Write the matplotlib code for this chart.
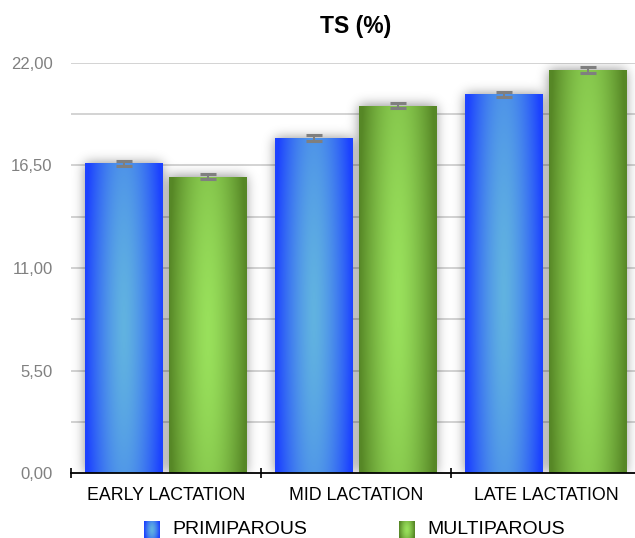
import numpy as np
import matplotlib
matplotlib.use("Agg")
import matplotlib.pyplot as plt
from matplotlib.ticker import FixedLocator, FuncFormatter

# Total solids by lactation stage and parity
stages = ["EARLY LACTATION", "MID LACTATION", "LATE LACTATION"]
series_names = ["PRIMIPAROUS", "MULTIPAROUS"]
primiparous = [16.6, 17.95, 20.3]
multiparous = [15.9, 19.7, 21.6]
primiparous_err = [0.12, 0.16, 0.14]
multiparous_err = [0.12, 0.12, 0.17]
y_ticks = [0.0, 5.5, 11.0, 16.5, 22.0]

plt.rcParams["font.family"] = ["Liberation Sans", "DejaVu Sans"]

W, H = 635, 538
fig = plt.figure(figsize=(W / 100, H / 100), dpi=100)
fig.patch.set_facecolor("white")

ax_l, ax_b = 71.3 / W, (H - 473.3) / H
ax_w, ax_h = 570.0 / W, 410.6 / H
ax = fig.add_axes([ax_l, ax_b, ax_w, ax_h])
ax.set_xlim(-0.5, 2.5)
ax.set_ylim(0, 22)

blue_c, blue_e = np.array([0.38, 0.70, 0.88]), np.array([0.11, 0.26, 1.00])
green_c, green_e = np.array([0.60, 0.88, 0.36]), np.array([0.34, 0.53, 0.15])


def gradient(center, edge, h=220, w=120, vc=0.47, vr=1.25):
    u = np.linspace(-1, 1, w)
    v = np.linspace(0, 1, h)
    U, V = np.meshgrid(u, v)
    d = np.clip(np.sqrt(U ** 2 + ((V - vc) / vr) ** 2), 0, 1)
    t = d ** 1.5
    return center[None, None, :] * (1 - t[..., None]) + edge[None, None, :] * t[..., None]


bw = 0.41
off = 0.221
x = np.arange(len(stages))

bars_p = ax.bar(x - off, primiparous, bw, color="none", zorder=3)
bars_m = ax.bar(x + off, multiparous, bw, color="none", zorder=3)

# soft drop shadow under the bars
npx_w, npx_h = 570, 411
mask = np.zeros((npx_h, npx_w))
for b in list(bars_p) + list(bars_m):
    x0, x1 = b.get_x(), b.get_x() + b.get_width()
    y1 = b.get_height()
    c0 = int((x0 + 0.5) / 3.0 * npx_w)
    c1 = int((x1 + 0.5) / 3.0 * npx_w)
    r1 = int(y1 / 22.0 * npx_h)
    mask[0:r1, c0:c1] = 1.0


def blur(a, s):
    k = np.arange(-3 * s, 3 * s + 1)
    g = np.exp(-k ** 2 / (2 * s * s))
    g /= g.sum()
    a = np.apply_along_axis(lambda r: np.convolve(r, g, mode="same"), 1, a)
    a = np.apply_along_axis(lambda c: np.convolve(c, g, mode="same"), 0, a)
    return a


pad = 30
big = np.pad(mask, pad)
sh = blur(big, 6)[pad:-pad, pad:-pad]
rgba = np.zeros((npx_h, npx_w, 4))
rgba[..., 3] = sh * 0.45
ax.imshow(rgba, extent=(-0.5, 2.5, 0, 22), origin="lower", aspect="auto",
          zorder=2, interpolation="bilinear")

for bars, cc, ee in ((bars_p, blue_c, blue_e), (bars_m, green_c, green_e)):
    img = gradient(cc, ee)
    for b in bars:
        x0 = b.get_x()
        im = ax.imshow(img, extent=(x0, x0 + b.get_width(), 0, b.get_height()),
                       origin="lower", aspect="auto", zorder=3, interpolation="bilinear")
        im.set_clip_path(b)

ax.set_xlim(-0.5, 2.5)
ax.set_ylim(0, 22)

ax.errorbar(x - off, primiparous, yerr=primiparous_err, fmt="none", ecolor="#7f7f7f",
            elinewidth=1.5, capsize=5.5, capthick=2.2, zorder=5)
ax.errorbar(x + off, multiparous, yerr=multiparous_err, fmt="none", ecolor="#7f7f7f",
            elinewidth=1.5, capsize=5.5, capthick=2.2, zorder=5)

# grid and axes styling
for gy in np.arange(2.75, 22.01, 2.75):
    ax.axhline(gy, color="#c8c8c8", lw=1.1, zorder=1)
for s in ("top", "right", "left"):
    ax.spines[s].set_visible(False)
ax.spines["bottom"].set_color("black")
ax.spines["bottom"].set_linewidth(1.3)
ax.spines["bottom"].set_zorder(6)

ax.yaxis.set_major_locator(FixedLocator(y_ticks))
ax.yaxis.set_major_formatter(FuncFormatter(lambda v, p: f"{v:.2f}".replace(".", ",")))
ax.tick_params(axis="y", length=0, pad=13.5, labelsize=12, labelcolor="#808080")

ax.set_xticks(x)
ax.set_xticklabels(stages)
ax.tick_params(axis="x", which="major", length=0, pad=10, labelsize=12.8, labelcolor="black")
ax.set_xticks([-0.5, 0.5, 1.5, 2.5], minor=True)
ax.tick_params(axis="x", which="minor", direction="inout", length=7, width=1.2, color="black")

fig.text(356 / W, 1 - 27 / H, "TS (%)", ha="center", va="center",
         fontsize=16.5, fontweight="bold")

# legend with gradient swatches
legend_items = [(144, 172, blue_c, blue_e), (399, 427, green_c, green_e)]
for name, (sx, tx, cc, ee) in zip(series_names, legend_items):
    sax = fig.add_axes([sx / W, (H - 538) / H, 16 / W, 17 / H])
    sax.imshow(gradient(cc, ee, 40, 40, vc=0.5, vr=1.0), origin="lower",
               aspect="auto", interpolation="bilinear")
    sax.axis("off")
    fig.text(tx / W, 1 - 529 / H, name, ha="left", va="center", fontsize=14)

fig.savefig("out.png", dpi=100, facecolor="white")
